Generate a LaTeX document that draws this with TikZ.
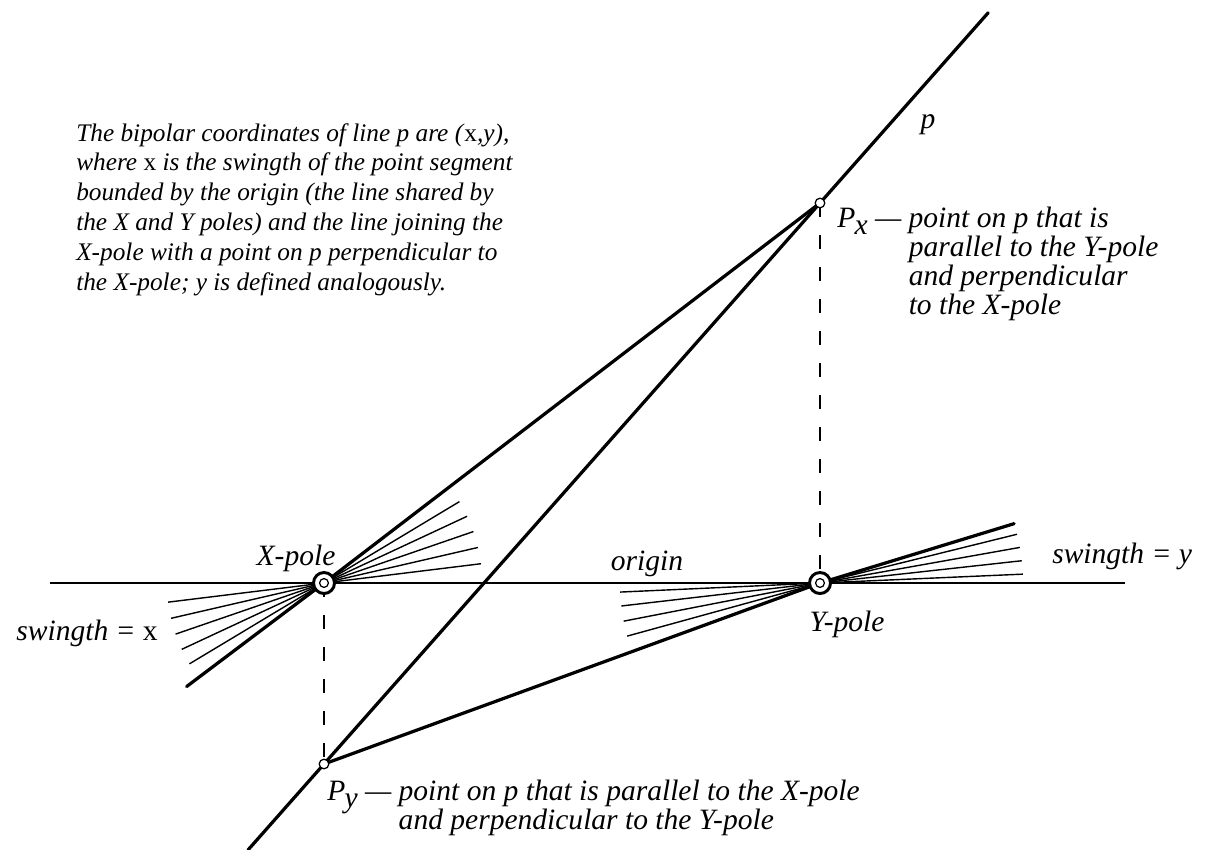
\documentclass[tikz,border=0pt]{standalone}
\usepackage{fontspec}
\setmainfont{Liberation Serif}
\usetikzlibrary{positioning,calc}
\tikzset{
  lab/.style={font=\fontsize{21}{20.6}\selectfont\itshape, inner sep=0pt},
  captext/.style={font=\fontsize{18}{21.3}\selectfont\itshape, inner sep=0pt},
  heavy/.style={line width=2.3pt, line cap=round},
  fanline/.style={line width=1pt},
  guide/.style={line width=0.9pt, dash pattern=on 0.35cm off 0.45cm},
  pole/.style={circle, draw, line width=2.1pt, fill=white, minimum size=0.525cm, inner sep=0pt},
  polein/.style={circle, draw, line width=0.9pt, fill=white, minimum size=0.22cm, inner sep=0pt},
  ptmark/.style={circle, draw, line width=0.9pt, fill=white, minimum size=0.24cm, inner sep=0pt}
}
\newcommand{\Psub}[1]{P\kern-0.5pt\raisebox{-0.55ex}{#1}}

\begin{document}
\begin{tikzpicture}[x=0.025cm, y=-0.025cm]
  \useasboundingbox (0,0) rectangle (1206,850);
  % poles and the two points on p
  \coordinate (X) at (324,583);
  \coordinate (Y) at (820,583);
  \coordinate (PX) at (820,203);
  \coordinate (PY) at (324,764);
  \coordinate (hl) at (50,583);
  \coordinate (hr) at (1125,583);
  \coordinate (pbot) at ($(PY)!-0.153!(PX)$);
  \coordinate (ptop) at ($(PX)!-0.339!(PY)$);

  % origin line, line p, guides
  \draw[line width=1.4pt] (hl) -- (hr);
  \draw[heavy] (pbot) -- (ptop);
  \draw[guide] (PX) -- (Y);
  \draw[guide] (X) -- (PY);

  % swingth fans at the X-pole
  \foreach \a [count=\i, evaluate=\a as \b using 180-\a] in {7,13,19,25,31} {
    \coordinate (xr\i) at ($(X)+(-\a:158)$);
    \coordinate (xl\i) at ($(X)+(\b:157)$);
    \draw[fanline] (X) -- (xr\i);
    \draw[fanline] (X) -- (xl\i);
  }
  \coordinate (xlend) at ($(X)+(143:172)$);
  \draw[heavy] (X) -- (PX);
  \draw[heavy] (X) -- (xlend);

  % swingth fans at the Y-pole
  \foreach \a/\c [count=\i, evaluate=\c as \b using 180-\c] in {2.5/2.6,6.3/6.6,10.1/11,13.9/15.4} {
    \coordinate (yr\i) at ($(Y)+(-\a:203)$);
    \coordinate (yl\i) at ($(Y)+(\b:200)$);
    \draw[fanline] (Y) -- (yr\i);
    \draw[fanline] (Y) -- (yl\i);
  }
  \coordinate (yrend) at ($(Y)+(-17:203)$);
  \draw[heavy] (Y) -- (PY);
  \draw[heavy] (Y) -- (yrend);

  % markers
  \node[pole] (xpole) at (X) {};
  \node[polein] (xpolec) at (X) {};
  \node[pole] (ypole) at (Y) {};
  \node[polein] (ypolec) at (Y) {};
  \node[ptmark] (px) at (PX) {};
  \node[ptmark] (py) at (PY) {};

  % labels
  \node[lab, anchor=base] (xlab) at (296,565) {X-pole};
  \node[lab, anchor=base] (ylab) at (847,631) {Y-pole};
  \node[lab, anchor=base] (olab) at (647,570) {origin};
  \node[lab, anchor=base] (plab) at (928,128) {p};
  \node[lab, anchor=base east] (swx) at (158,640) {swingth = \textup{x}};
  \node[lab, anchor=base west] (swy) at (1052,563) {swingth = y};
  \node[lab, anchor=base west] (pxlab) at (837,227)
    {\Psub{x} --- \begin{tabular}[t]{@{}l@{}}point on p that is\\parallel to the Y-pole\\and perpendicular\\to the X-pole\end{tabular}};
  \node[lab, anchor=base west] (pylab) at (327,800)
    {\Psub{y} --- \begin{tabular}[t]{@{}l@{}}point on p that is parallel to the X-pole\\and perpendicular to the Y-pole\end{tabular}};
  \node[captext, anchor=base west] (caption) at (76,141)
    {\begin{tabular}[t]{@{}l@{}}The bipolar coordinates of line p are (\textup{x},y),\\
     where \textup{x} is the swingth of the point segment\\
     bounded by the origin (the line shared by\\
     the X and Y poles) and the line joining the\\
     X-pole with a point on p perpendicular to\\
     the X-pole; y is defined analogously.\end{tabular}};
\end{tikzpicture}
\end{document}
